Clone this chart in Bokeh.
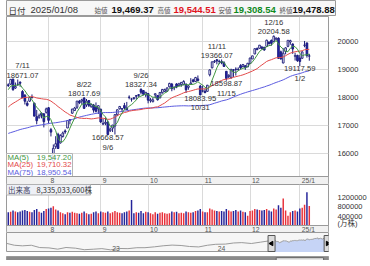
import pandas as pd
from bokeh.plotting import figure
from bokeh.layouts import column
from bokeh.models import Range1d, ColumnDataSource, FixedTicker, NumeralTickFormatter
from bokeh.core.properties import value
from bokeh.embed import file_html
from bokeh.resources import INLINE

FONT = "Liberation Sans"
JFONT = "Noto Sans CJK JP"

# ---------------- data ----------------
dates = [
    "2024-07-09", "2024-07-10", "2024-07-11", "2024-07-12", "2024-07-15", "2024-07-16", "2024-07-17", "2024-07-18",
    "2024-07-19", "2024-07-22", "2024-07-23", "2024-07-24", "2024-07-25", "2024-07-26", "2024-07-29", "2024-07-30",
    "2024-07-31",
    "2024-08-01", "2024-08-02", "2024-08-05", "2024-08-06", "2024-08-07", "2024-08-08", "2024-08-09", "2024-08-12",
    "2024-08-13", "2024-08-14", "2024-08-15", "2024-08-16", "2024-08-19", "2024-08-20", "2024-08-21", "2024-08-22",
    "2024-08-23", "2024-08-26", "2024-08-27", "2024-08-28", "2024-08-29", "2024-08-30",
    "2024-09-03", "2024-09-04", "2024-09-05", "2024-09-06", "2024-09-09", "2024-09-10", "2024-09-11", "2024-09-12",
    "2024-09-13", "2024-09-16", "2024-09-17", "2024-09-18", "2024-09-19", "2024-09-20", "2024-09-23", "2024-09-24",
    "2024-09-25", "2024-09-26", "2024-09-27", "2024-09-30",
    "2024-10-01", "2024-10-02", "2024-10-03", "2024-10-04", "2024-10-07", "2024-10-08", "2024-10-09", "2024-10-10",
    "2024-10-11", "2024-10-14", "2024-10-15", "2024-10-16", "2024-10-17", "2024-10-18", "2024-10-21", "2024-10-22",
    "2024-10-23", "2024-10-24", "2024-10-25", "2024-10-28", "2024-10-29", "2024-10-30", "2024-10-31",
    "2024-11-01", "2024-11-04", "2024-11-05", "2024-11-06", "2024-11-07", "2024-11-08", "2024-11-11", "2024-11-12",
    "2024-11-13", "2024-11-14", "2024-11-15", "2024-11-18", "2024-11-19", "2024-11-20", "2024-11-21", "2024-11-22",
    "2024-11-25", "2024-11-26", "2024-11-27", "2024-11-29",
    "2024-12-02", "2024-12-03", "2024-12-04", "2024-12-05", "2024-12-06", "2024-12-09", "2024-12-10", "2024-12-11",
    "2024-12-12", "2024-12-13", "2024-12-16", "2024-12-17", "2024-12-18", "2024-12-19", "2024-12-20", "2024-12-23",
    "2024-12-24", "2024-12-26", "2024-12-27", "2024-12-30", "2024-12-31",
    "2025-01-02", "2025-01-03", "2025-01-06", "2025-01-07", "2025-01-08",
]
opens = [
    18454, 18477, 18655, 18338, 18473, 18546, 18216, 18087, 17801, 17873, 18006, 17796, 17323, 17303, 17444, 17424, 17477,
    17640, 16864, 15753, 16261, 16699, 16393, 16620, 16818, 16922, 17222, 17448, 17541, 17657, 17872, 17874, 17984,
    17738, 17896, 17673, 17736, 17644, 17601,
    17589, 17058, 17088, 17134, 16825, 16916, 16991, 17391, 17602, 17606, 17716, 17625, 18009, 17952, 17993, 18043,
    18102, 18294, 18250, 18091,
    18144, 17885, 17854, 18095, 18076, 17989, 18174, 18218, 18224, 18381, 18480, 18342, 18485, 18426, 18460, 18461,
    18471, 18363, 18479, 18628, 18567, 18662, 18408,
    18235, 18227, 18221, 18810, 19057, 19264, 19342, 19282, 19282, 19233, 18933, 18746, 18716, 18990, 19005, 18999,
    19135, 19104, 19133, 19087,
    19209, 19370, 19549, 19740, 19746, 19788, 19785, 19818, 19962, 20025, 19986, 20071, 20108, 19622, 19228, 19634,
    19818, 19971, 19901, 19467, 19499,
    19403, 19395, 19851, 19938, 19469.37,
]
highs = [
    18506, 18655, 18671.07, 18535, 18641, 18575, 18264, 18122, 17885, 18017, 18112, 17825, 17565, 17430, 17476, 17444, 17644,
    17665, 16926, 16339, 16632, 16753, 16698, 16794, 16873, 17196, 17232, 17602, 17669, 17877, 17918, 17957, 18017.69,
    17952, 17913, 17786, 17775, 17828, 17714,
    17606, 17244, 17298, 17185, 16937, 17032, 17405, 17572, 17705, 17621, 17813, 17847, 18080, 17980, 18002, 18083,
    18122, 18327.34, 18264, 18198,
    18150, 17982, 17999, 18140, 18084, 18198, 18303, 18318, 18362, 18526, 18519, 18396, 18510, 18524, 18551, 18615,
    18508, 18438, 18690, 18666, 18734, 18785, 18453,
    18430, 18320, 18450, 18996, 19275, 19332, 19366.07, 19345, 19353, 19291, 18934, 18826, 19026, 19005, 19074, 19074,
    19184, 19191, 19136, 19229,
    19415, 19483, 19736, 19779, 19863, 19833, 19798, 20055, 19999, 20063, 20204.58, 20134, 20135, 19667, 19748, 19788,
    20031, 20053, 19923, 19590, 19518,
    19517, 19638, 20008, 19952, 19544.51,
]
lows = [
    18374, 18446, 18241, 18310, 18416, 18385, 17986, 17756, 17687, 17846, 17971, 17341, 17053, 17247, 17264, 16943, 17432,
    17087, 16623, 15708, 16182, 16178, 16370, 16582, 16715, 16917, 17048, 17418, 17535, 17595, 17769, 17776, 17597,
    17670, 17665, 17646, 17464, 17472, 17419,
    17102, 17022, 17022, 16668.57, 16779, 16779, 16690, 17341, 17577, 17492, 17576, 17569, 17939, 17857, 17921, 17932,
    18026, 18113, 18080, 18016,
    17796, 17822, 17833, 17971, 17895, 17977, 18139, 18198, 18213, 18358, 18226, 18263, 18334, 18396, 18387, 18432,
    18165, 18278, 18451, 18539, 18551, 18584, 18083.95,
    18186, 18151, 18218, 18752, 19036, 19228, 19179, 19184, 19183, 19086, 18598.87, 18684, 18662, 18733, 18781, 18949,
    18996, 19069, 18981, 19087,
    19205, 19365, 19537, 19681, 19743, 19709, 19661, 19807, 19897, 19840, 19980, 20033, 19372, 19345, 19214, 19535,
    19787, 19873, 19551, 19314, 19268,
    19117.59, 19380, 19785, 19418, 19308.54,
]
closes = [
    18429, 18647, 18283, 18398, 18472, 18509, 17997, 17871, 17727, 18007, 17997, 17342, 17181, 17358, 17370, 17147, 17599,
    17194, 16776, 16200, 16366, 16195, 16660, 16745, 16780, 17188, 17192, 17594, 17631, 17877, 17817, 17919, 17619,
    17878, 17725, 17754, 17556, 17516, 17714,
    17136, 17084, 17128, 16691, 16885, 17026, 17396, 17570, 17684, 17593, 17628, 17573, 18014, 17948, 17974, 18075,
    18082, 18190, 18119, 18189,
    17910, 17925, 17918, 18138, 17923, 18183, 18291, 18282, 18342, 18503, 18316, 18367, 18374, 18490, 18540, 18573,
    18277, 18415, 18519, 18567, 18712, 18607, 18095,
    18240, 18180, 18439, 18983, 19269, 19287, 19299, 19282, 19231, 19107, 18680, 18791, 18988, 18967, 19004, 19004,
    19054, 19175, 19060, 19218,
    19404, 19481, 19735, 19701, 19860, 19737, 19687, 20034, 19902, 19926, 20173, 20109, 19393, 19372, 19573, 19764,
    20031, 20020, 19722, 19486, 19311,
    19281, 19622, 19865, 19490, 19478.88,
]
# volume in 10,000 shares (万株)
volumes = [
    560000, 590000, 640000, 600000, 560000, 600000, 640000, 660000, 620000, 580000, 560000, 660000, 700000, 580000,
    540000, 620000, 700000,
    720000, 760000, 820000, 680000, 640000, 560000, 520000, 480000, 560000, 540000, 580000, 540000, 520000, 500000,
    540000, 600000, 520000, 480000, 500000, 560000, 600000, 520000,
    600000, 560000, 540000, 600000, 520000, 560000, 620000, 560000, 540000, 520000, 560000, 600000, 640000, 1080000,
    520000, 560000, 540000, 620000, 520000, 580000,
    560000, 520000, 480000, 560000, 500000, 540000, 560000, 520000, 500000, 520000, 600000, 560000, 580000, 520000,
    540000, 520000, 600000, 560000, 540000, 560000, 620000, 640000, 700000,
    600000, 560000, 560000, 720000, 680000, 640000, 620000, 600000, 620000, 600000, 700000, 640000, 600000, 620000,
    660000, 600000, 640000, 580000, 560000, 420000,
    620000, 640000, 700000, 680000, 660000, 640000, 660000, 700000, 640000, 600000, 720000, 680000, 860000, 760000,
    1150000, 640000, 420000, 560000, 620000, 640000, 600000,
    720000, 760000, 880000, 1420000, 833503.36,
]
# closes before the first shown day (2024-03-21 .. 2024-07-08), for the moving averages
prior_closes = [
    16402, 16429, 16384, 16316, 16400, 16379,
    16397, 16240, 16277, 16050, 16249, 16253, 16306, 16171, 16443, 16175, 15885, 15865, 15683, 15602, 15282, 15451,
    15697, 15713, 15612, 15928, 15983, 15658,
    15605, 15841, 16156, 16349, 16333, 16302, 16346, 16341, 16389, 16512, 16742, 16698, 16686, 16795, 16833, 16802,
    16737, 16921, 17019, 16920, 16737, 16735,
    16828, 16857, 17187, 17173, 17133, 17192, 17343, 17608, 17667, 17689, 17857, 17862, 17722, 17689, 17497, 17718,
    17805, 17805, 17733,
    17879, 18029, 18188, 18353, 18403,
]
month_labels = ["8", "9", "10", "11", "12", "25/1"]
price_ticks = [16000, 17000, 18000, 19000, 20000]
vol_ticks = [400000, 800000, 1200000]
vol_unit = "(万株)"
ann_dates = ["2024-07-11", "2024-08-22", "2024-09-06", "2024-09-26", "2024-10-31",
             "2024-11-11", "2024-11-15", "2024-12-16", "2025-01-02"]
ann_kinds = ["high", "high", "low", "high", "low", "high", "low", "high", "low"]
ma_names = ["MA(5)", "MA(25)", "MA(75)"]
ma_values = ["19,547.20", "19,710.32", "18,950.54"]
ma_colors = ["#3f963f", "#e34a4a", "#5c5ce0"]
nav_dates = ["2022-01-03", "2022-01-31", "2022-02-28", "2022-03-31", "2022-04-29", "2022-05-31", "2022-06-30",
             "2022-07-29", "2022-08-31", "2022-09-30", "2022-10-31", "2022-11-30", "2022-12-30", "2023-01-31",
             "2023-02-28", "2023-03-31", "2023-04-28", "2023-05-31", "2023-06-30", "2023-07-31", "2023-08-31",
             "2023-09-29", "2023-10-31", "2023-11-30", "2023-12-29", "2024-01-31", "2024-02-29", "2024-03-28",
             "2024-04-30", "2024-05-31", "2024-06-28"]
nav_values = [15833, 14240, 13751, 14221, 12335, 12081, 11029, 12391, 11816, 10576, 10988, 11468, 10466, 11585,
              11456, 12222, 12227, 12935, 13788, 14346, 14035, 13219, 12851, 14226, 15011, 15164, 16092, 16379,
              15658, 16735, 17733]
year_labels = ["23", "24"]
year_starts = ["2023-01-01", "2024-01-01"]

# ---------------- layout constants ----------------
FW = 322
LEFT, RIGHT = 6, 42
X0, X1 = -0.75, 135.1
PY0, PY1 = 15202, 20876   # price range over the 160 px candle area
PH = 160
STRIP1 = 8
VH = 41
STRIP2 = 7
VY1 = 1745000
GRID = "#dadada"
WICK = "#1c1c78"
DOWN = "#2222b0"
STRIP_BG = "#f1f1f1"
BORDER = "#9a9a9a"

N = len(closes)
idx = list(range(N))
dts = pd.to_datetime(dates)
xr = Range1d(X0, X1)
ppu = FW / (X1 - X0)
ppy = PH / (PY1 - PY0)
vppy = VH / VY1


def mk(fh, x_range, y_range, yloc=None, fw=FW, left=LEFT, right=RIGHT):
    f = figure(frame_width=fw, frame_height=fh, x_range=x_range, y_range=y_range,
               min_border_left=left, min_border_right=right, min_border_top=0, min_border_bottom=0,
               toolbar_location=None, output_backend="svg", title=None,
               x_axis_location=None, y_axis_location=yloc)
    f.xgrid.visible = False
    f.ygrid.visible = False
    f.outline_line_color = BORDER
    f.background_fill_color = "white"
    f.border_fill_color = "white"
    return f


def style_axis(ax, ticks):
    ax.ticker = FixedTicker(ticks=ticks)
    ax.axis_line_color = None
    ax.major_tick_line_color = None
    ax.minor_tick_line_color = None
    ax.major_label_standoff = 3
    ax.major_label_text_font = FONT
    ax.major_label_text_font_size = "7.5px"
    ax.major_label_text_color = "#333333"


def tw(s, fs):
    return sum((0.278 if ch in "./" else 0.556) * fs for ch in s)


def month_row(f, y_lo, y_hi):
    f.quad(left=[X0], right=[X1], bottom=[y_lo], top=[y_hi], fill_color=STRIP_BG, line_color=BORDER, line_width=1)
    f.text(x=month_starts, y=[(y_lo + y_hi) / 2] * len(month_starts), text=month_labels, x_offset=2,
           text_font=value(FONT), text_font_size="6.8px", text_color="#555555",
           text_baseline="middle", text_align="left")


# ---------------- header ----------------
hd = mk(16, Range1d(0, 329), Range1d(16, 0), fw=329, left=0, right=41)
hd.background_fill_color = "#f7f7f7"
last = dts[-1]
head_items = [
    (2, "日付", "#333333", "8.5px", "normal", JFONT),
    (24, last.strftime("%Y/%m/%d"), "#333333", "9.5px", "normal", FONT),
    (88, "始値", "#555555", "6.5px", "normal", JFONT),
    (105, f"{opens[-1]:,.2f}", "#111111", "9.5px", "bold", FONT),
    (151, "高値", "#555555", "6.5px", "normal", JFONT),
    (167, f"{highs[-1]:,.2f}", "#e0141e", "9.5px", "bold", FONT),
    (212, "安値", "#555555", "6.5px", "normal", JFONT),
    (227, f"{lows[-1]:,.2f}", "#0f8a1e", "9.5px", "bold", FONT),
    (273, "終値", "#555555", "6.5px", "normal", JFONT),
    (286, f"{closes[-1]:,.2f}", "#111111", "9.5px", "bold", FONT),
]
for x, t, c, s, wgt, fnt in head_items:
    hd.text(x=[x], y=[9.0], text=[t], text_color=c, text_font_size=s, text_font_style=wgt,
            text_font=value(fnt), text_baseline="middle", text_align="left")

# ---------------- price (with the month row under it) ----------------
month_starts = [i for i in range(1, N) if dts[i].month != dts[i - 1].month]
PYS = PY0 - STRIP1 / ppy
p = mk(PH + STRIP1, xr, Range1d(PYS, PY1), yloc="right")
style_axis(p.yaxis[0], price_ticks)
p.xgrid.visible = True
p.ygrid.visible = True
p.xgrid.ticker = FixedTicker(ticks=month_starts)
p.ygrid.ticker = FixedTicker(ticks=price_ticks)
p.xgrid.grid_line_color = GRID
p.ygrid.grid_line_color = GRID

up = [c >= o for o, c in zip(opens, closes)]
src = ColumnDataSource(dict(
    x=idx, h=highs, l=lows,
    top=[max(o, c) for o, c in zip(opens, closes)],
    bot=[min(o, c) for o, c in zip(opens, closes)],
    fill=["white" if u else DOWN for u in up],
))
p.segment(x0="x", y0="l", x1="x", y1="h", source=src, line_color=WICK, line_width=1)
p.vbar(x="x", width=0.72, top="top", bottom="bot", fill_color="fill", line_color=WICK, line_width=0.9, source=src)

allc = pd.Series(prior_closes + closes, dtype=float)
for n, col in zip([75, 25, 5], [ma_colors[2], ma_colors[1], ma_colors[0]]):
    ma = allc.rolling(n).mean().iloc[-N:].tolist()
    p.line(idx, ma, line_color=col, line_width=1)

# high / low annotations
AFS = 7.7
hx, hy, ht, lx, ly, lt = [], [], [], [], [], []
for d, k in zip(ann_dates, ann_kinds):
    i = dates.index(d)
    val = highs[i] if k == "high" else lows[i]
    vt = f"{val:.2f}"
    ts = pd.Timestamp(d)
    dtx = f"{ts.month}/{ts.day}"
    wmax = max(tw(vt, AFS), tw(dtx, AFS))
    cx = (i - X0) * ppu
    shift = 0.0
    if cx - wmax / 2 < 0:
        shift = wmax / 2 - cx
    if cx + wmax / 2 > FW:
        shift = FW - wmax / 2 - cx
    x = i + shift / ppu
    if k == "high":
        hx += [x, x]
        hy += [val + 1.0 / ppy, val + 8.5 / ppy]
        ht += [vt, dtx]
    else:
        lx += [x, x]
        ly += [val - 0.3 / ppy, val - 7.8 / ppy]
        lt += [vt, dtx]
p.text(x=hx, y=hy, text=ht, text_align="center", text_baseline="bottom", text_font=value(FONT),
       text_font_size=f"{AFS}px", text_color="#333333")
p.text(x=lx, y=ly, text=lt, text_align="center", text_baseline="top", text_font=value(FONT),
       text_font_size=f"{AFS}px", text_color="#333333")

# MA legend box (bottom-left of the candle area)
p.quad(left=[X0], right=[X0 + 66 / ppu], bottom=[PY0], top=[PY0 + 23 / ppy],
       fill_color="white", fill_alpha=0.85, line_color="#b4b4b4", line_width=1)
rows_px = [19.0, 11.7, 4.4]
p.text(x=[X0 + 1 / ppu] * 3, y=[PY0 + r / ppy for r in rows_px], text=ma_names, text_color=ma_colors,
       text_font=value(FONT), text_font_size="7.8px", text_baseline="middle", text_align="left")
p.text(x=[X0 + 65 / ppu] * 3, y=[PY0 + r / ppy for r in rows_px], text=ma_values, text_color=ma_colors,
       text_font=value(FONT), text_font_size="7.8px", text_baseline="middle", text_align="right")

month_row(p, PYS, PY0)

# ---------------- volume (with the month row under it) ----------------
VYS = -STRIP2 / vppy
v = mk(VH + STRIP2, xr, Range1d(VYS, VY1), yloc="right")
style_axis(v.yaxis[0], vol_ticks + [70000])
v.yaxis[0].formatter = NumeralTickFormatter(format="0")
ov = {t: str(t) for t in vol_ticks}
ov[70000] = vol_unit
v.yaxis[0].major_label_overrides = ov
v.yaxis[0].major_label_text_font = "Liberation Sans, Noto Sans CJK JP"
v.yaxis[0].major_label_text_baseline = "bottom"
v.xgrid.visible = True
v.xgrid.ticker = FixedTicker(ticks=month_starts)
v.xgrid.grid_line_color = GRID
vcol = ["#e8303a" if u else "#24249a" for u in up]
v.vbar(x=idx, top=volumes, bottom=0, width=0.62, fill_color=vcol, line_color=None)
v.quad(left=[X0], right=[X0 + 84 / ppu], top=[VY1], bottom=[VY1 - 10.5 / vppy],
       fill_color="#eef0f6", line_color="#b4b4b4")
vol_txt = f"{int(round(volumes[-1] * 10000)):,}株"
v.text(x=[X0 + 1.5 / ppu, X0 + 30 / ppu], y=[VY1 - 5.3 / vppy] * 2, text=["出来高", vol_txt],
       text_color=["#3a3a5a", "#333333"], text_font=value(JFONT), text_font_size="7.5px",
       text_baseline="middle", text_align="left")
month_row(v, VYS, 0)

# ---------------- navigator ----------------
nav_d = pd.to_datetime(nav_dates)
sel_start = dts[0]
sel_end = dts[-1] + pd.Timedelta(days=11)
nxr = Range1d(pd.Timestamp("2022-01-04"), pd.Timestamp("2025-01-22"))
NY0, NY1 = 8300, 24660
nav = mk(20, nxr, Range1d(NY0, NY1))
nav.background_fill_color = "#f6f6f6"
line_x = list(nav_d) + list(dts)
line_y = nav_values + closes
nav.varea(x=list(dts), y1=[NY0] * N, y2=closes, fill_color="#c6d4f6")
nav.line(line_x, line_y, line_color="#9a9a9a", line_width=1)
nav.text(x=pd.to_datetime(year_starts), y=[NY0 + (NY1 - NY0) * 0.18] * 2, text=year_labels, x_offset=1,
         text_font=value(FONT), text_font_size="6.8px", text_color="#555555",
         text_baseline="middle", text_align="left")
hy_mid = NY0 + (NY1 - NY0) * 0.45
nav.rect(x=[sel_start, sel_end], y=[hy_mid] * 2, width=7, height=16, width_units="screen",
         height_units="screen", fill_color="#dcdcdc", line_color="#555555")
nav.scatter(x=[sel_start, sel_end], y=[hy_mid] * 2, marker="triangle", size=4.5,
            angle=[1.5708, -1.5708], fill_color="black", line_color="black")

# scrollbar
sb = mk(8, nxr, Range1d(0, 1))
sb.background_fill_color = "#8a8a8a"
sb.quad(left=[sel_start + pd.Timedelta(days=16)], right=[sel_end - pd.Timedelta(days=14)], bottom=[0.15], top=[0.85],
        fill_color="#e6e6e6", line_color="#666666")

layout = column(hd, p, v, nav, sb, spacing=0)
open("out.html", "w").write(file_html(layout, INLINE))
